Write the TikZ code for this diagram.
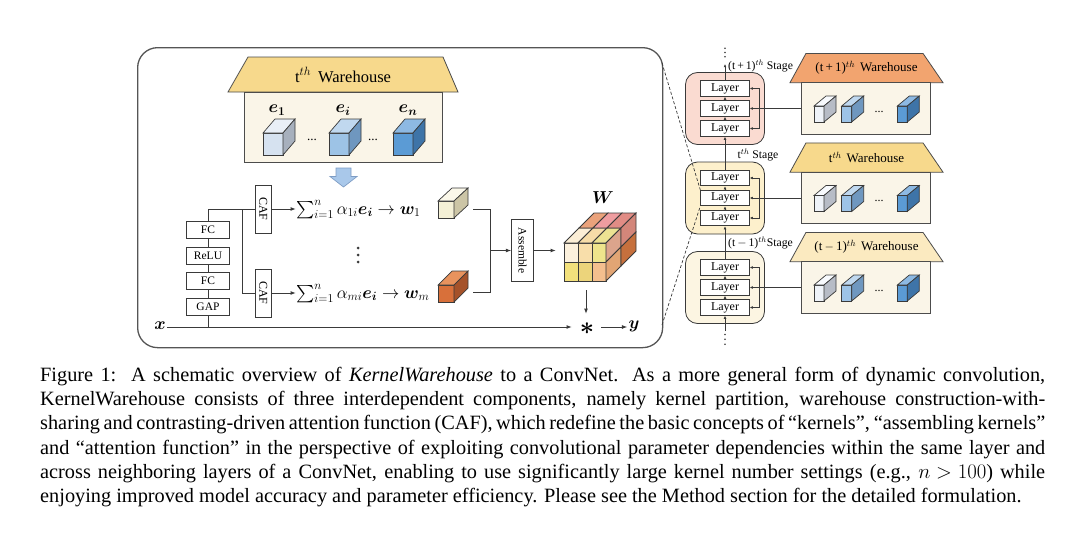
\documentclass[tikz,border=0pt]{standalone}
\usepackage{fontspec}
\setmainfont{Liberation Serif}
\usepackage{amsmath}
\usepackage{bm}
\usetikzlibrary{arrows.meta,calc}
\definecolor{lncol}{HTML}{3A3A3A}
\definecolor{panelcol}{HTML}{555555}
\definecolor{roofT}{HTML}{F7D98C}
\definecolor{roofA}{HTML}{F2A46F}
\definecolor{roofB}{HTML}{F7D98C}
\definecolor{roofC}{HTML}{FBEAC0}
\definecolor{bodycol}{HTML}{FAF5E8}
\definecolor{stA}{HTML}{FADBD1}
\definecolor{stB}{HTML}{FDF0CC}
\definecolor{stC}{HTML}{FCF5E2}
\definecolor{arrowblue}{HTML}{A9C8EA}
\definecolor{arrowblueD}{HTML}{7E9CC4}
\definecolor{c1f}{HTML}{D6E2F0}\definecolor{c1t}{HTML}{E9EFF7}\definecolor{c1s}{HTML}{A7B0BD}
\definecolor{c2f}{HTML}{9DC3E6}\definecolor{c2t}{HTML}{C0D8EF}\definecolor{c2s}{HTML}{6F97BF}
\definecolor{c3f}{HTML}{5B9BD5}\definecolor{c3t}{HTML}{8DB9E3}\definecolor{c3s}{HTML}{3E74A8}
\definecolor{s1f}{HTML}{EEF2F8}\definecolor{s1t}{HTML}{F8FAFD}\definecolor{s1s}{HTML}{B7BCC6}
\definecolor{w1f}{HTML}{F4F0D6}\definecolor{w1t}{HTML}{FBF8EA}\definecolor{w1s}{HTML}{CCC5A6}
\definecolor{wmf}{HTML}{D8703A}\definecolor{wmt}{HTML}{E8935E}\definecolor{wms}{HTML}{A5522A}
\definecolor{F1}{HTML}{FCF1DD}\definecolor{F2}{HTML}{F8DEAA}\definecolor{F3}{HTML}{EEE48C}
\definecolor{F4}{HTML}{F3E17C}\definecolor{F5}{HTML}{ECD47B}\definecolor{F6}{HTML}{F4BF8E}
\definecolor{T1}{HTML}{FBEED6}\definecolor{T2}{HTML}{F6DCA8}\definecolor{T3}{HTML}{ECE292}
\definecolor{T4}{HTML}{EAA27B}\definecolor{T5}{HTML}{EF9DA0}\definecolor{T6}{HTML}{E18C85}
\definecolor{S1}{HTML}{DCA48C}\definecolor{S2}{HTML}{D3867A}\definecolor{S3}{HTML}{E2A574}\definecolor{S4}{HTML}{C6703D}
\newcommand{\kcube}[9]{%
  \filldraw[draw=lncol,line width=0.7pt,fill=#7] (#1,#2) rectangle ++(#3,#4);
  \filldraw[draw=lncol,line width=0.7pt,fill=#8] (#1,#2) -- ++(#5,-#6) -- ++(#3,0) -- ++(-#5,#6) -- cycle;
  \filldraw[draw=lncol,line width=0.7pt,fill=#9] (#1,#2) ++(#3,0) -- ++(#5,-#6) -- ++(0,#4) -- ++(-#5,#6) -- cycle;
}
\begin{document}
\begin{tikzpicture}[x=1pt,y=-1pt,
  ln/.style={draw=lncol,line width=1pt},
  arr/.style={draw=lncol,line width=1pt,-{Latex[length=5.5pt,width=4pt]}},
  sarr/.style={draw=lncol,line width=0.8pt,-{Latex[length=3.2pt,width=2.8pt]}},
  opbox/.style={draw=lncol,fill=white,line width=0.8pt,inner sep=0pt,font=\fontsize{11.5}{12}\selectfont},
  layerbox/.style={opbox,minimum width=48.6pt,minimum height=15.5pt,font=\fontsize{12}{12}\selectfont},
  stagebox/.style={draw=lncol,line width=0.8pt,rounded corners=12pt,minimum width=79pt,minimum height=72pt,inner sep=0pt},
  whbody/.style={draw=gray!60!black,line width=0.8pt,fill=bodycol,inner sep=0pt},
  roof/.style={draw=gray!60!black,line width=0.8pt},
  dsh/.style={draw=lncol,line width=0.7pt,dash pattern=on 3pt off 2pt},
  captext/.style={anchor=base west,inner sep=0pt,font=\fontsize{20.3}{24}\selectfont}]
\fill[white] (0,0) rectangle (1080,546);
\useasboundingbox (0,0) rectangle (1080,546);

% ---------- left panel ----------
\node[draw=panelcol,line width=1.3pt,rounded corners=20pt,minimum width=525pt,minimum height=300pt,anchor=north west,inner sep=0pt] (panel) at (137,47) {};
\coordinate (pTR) at (662,63);
\coordinate (pBR) at (662,325);

% big warehouse
\filldraw[roof,fill=roofT] (248,57) -- (443,57) -- (458,92) -- (228,92) -- cycle;
\node[whbody,anchor=north west,minimum width=198pt,minimum height=70pt] (whbig) at (244,92) {};
\node[font=\fontsize{16.5}{18}\selectfont] (whtitle) at (343,75) {t$^{th}$\hspace{7pt}Warehouse};
\node[font=\fontsize{17}{18}\selectfont] (e1) at (277,110) {$\bm{e}_{\bm{1}}$};
\node[font=\fontsize{17}{18}\selectfont] (ei) at (343,110) {$\bm{e}_{\bm{i}}$};
\node[font=\fontsize{17}{18}\selectfont] (en) at (408,110) {$\bm{e}_{\bm{n}}$};
\kcube{263}{133}{20}{22}{12}{14}{c1f}{c1t}{c1s}
\kcube{329}{133}{20}{22}{12}{14}{c2f}{c2t}{c2s}
\kcube{393}{133}{20}{22}{12}{14}{c3f}{c3t}{c3s}
\node[font=\fontsize{13}{13}\selectfont] (dA) at (312,140) {...};
\node[font=\fontsize{13}{13}\selectfont] (dB) at (373,140) {...};
\filldraw[draw=arrowblueD,fill=arrowblue,line width=0.7pt] (336,168) -- (351,168) -- (351,176.5) -- (357,176.5) -- (343.5,187) -- (330,176.5) -- (336,176.5) -- cycle;

% attention branch
\node[opbox,minimum width=43pt,minimum height=16.5pt] (fc1) at (208,230) {FC};
\node[opbox,minimum width=43pt,minimum height=16.5pt] (relu) at (208,255.7) {ReLU};
\node[opbox,minimum width=43pt,minimum height=16.5pt] (fc2) at (208,280.7) {FC};
\node[opbox,minimum width=43pt,minimum height=16.5pt] (gap) at (208,306.7) {GAP};
\coordinate (xs) at (208,327);
\draw[ln] (xs) -- (gap);
\draw[ln] (gap) -- (fc2);
\draw[ln] (fc2) -- (relu);
\draw[ln] (relu) -- (fc1);
\node[opbox,rotate=-90,minimum width=48pt,minimum height=16.7pt,font=\fontsize{12}{12}\selectfont] (caf1) at (263.3,209) {CAF};
\node[opbox,rotate=-90,minimum width=48pt,minimum height=16.7pt,font=\fontsize{12}{12}\selectfont] (caf2) at (263.3,293) {CAF};
\coordinate (sp) at (242,209);
\draw[ln] (fc1) |- (caf1);
\draw[ln] (sp) |- (caf2);

\node[anchor=base west,inner sep=0pt,font=\fontsize{17}{18}\selectfont] (f1) at (296,214) {$\sum_{i=1}^{n}\alpha_{1i}\bm{e}_{\bm{i}}\rightarrow\bm{w}_1$};
\node[anchor=base west,inner sep=0pt,font=\fontsize{17}{18}\selectfont] (f2) at (296,298) {$\sum_{i=1}^{n}\alpha_{mi}\bm{e}_{\bm{i}}\rightarrow\bm{w}_m$};
\draw[arr] (caf1) -- (caf1 -| f1.west);
\draw[arr] (caf2) -- (caf2 -| f2.west);
\fill[lncol] (358,248) circle (1.5pt) (358,255) circle (1.5pt) (358,262) circle (1.5pt);

\kcube{438}{201}{16}{17}{14}{13}{w1f}{w1t}{w1s}
\kcube{438}{285}{16}{17}{14}{14}{wmf}{wmt}{wms}
\coordinate (w1r) at (473,209);
\coordinate (wmr) at (473,292);
\coordinate (b1) at (490,209);
\coordinate (b2) at (490,292);
\coordinate (bm) at (490,250.5);
\draw[ln] (w1r) -- (b1) -- (b2) -- (wmr);
\node[opbox,rotate=-90,minimum width=61.7pt,minimum height=21.6pt,font=\fontsize{11.5}{12}\selectfont] (asm) at (522.5,250.5) {Assemble};
\draw[arr] (bm) -- (asm);
\coordinate (Win) at (556,250.5);
\draw[arr] (asm) -- (Win);

% W cube
\foreach \c/\r/\col in {0/0/F1,1/0/F2,2/0/F3,0/1/F4,1/1/F5,2/1/F6}
  \filldraw[draw=lncol,line width=0.8pt,fill=\col] ({564+14*\c},{243+19*\r}) rectangle ++(14,19);
\foreach \c/\k/\col in {0/0/T1,1/0/T2,2/0/T3,0/1/T4,1/1/T5,2/1/T6}
  \filldraw[draw=lncol,line width=0.8pt,fill=\col] ({564+14*\c+15*\k},{243-15*\k}) -- ++(14,0) -- ++(15,-15) -- ++(-14,0) -- cycle;
\foreach \k/\r/\col in {0/0/S1,1/0/S2,0/1/S3,1/1/S4}
  \filldraw[draw=lncol,line width=0.8pt,fill=\col] ({606+15*\k},{243+19*\r-15*\k}) -- ++(15,-15) -- ++(0,19) -- ++(-15,15) -- cycle;
\node[font=\fontsize{17}{18}\selectfont] (Wl) at (603,198) {$\bm{W}$};

\coordinate (Wbot) at (586,290);
\coordinate (sTop) at (586,314);
\draw[arr] (Wbot) -- (sTop);
\node[anchor=base,inner sep=0pt,font=\fontsize{30}{30}\selectfont] (star) at (587,334.5) {$\bm{\ast}$};
\node[font=\fontsize{17}{18}\selectfont,inner sep=1pt] (xl) at (160,326) {$\bm{x}$};
\node[font=\fontsize{17}{18}\selectfont,inner sep=1pt] (yl) at (634,326) {$\bm{y}$};
\coordinate (sL) at (572,327);
\coordinate (sR) at (601,327);
\draw[arr] (xl.east |- sL) -- (sL);
\draw[arr] (sR) -- (yl.west |- sR);

% ---------- right side ----------
\foreach \s/\S/\fc/\rc in {a/108.5/stA/roofA, b/198/stB/roofB, c/287.5/stC/roofC} {
  \node[stagebox,fill=\fc] (\s box) at (725,\S) {};
  \node[layerbox] (\s1) at (725,\S-20) {Layer};
  \node[layerbox] (\s2) at (725,\S) {Layer};
  \node[layerbox] (\s3) at (725,\S+20) {Layer};
  \draw[sarr] (\s3) -- (\s2);
  \draw[sarr] (\s2) -- (\s1);
  \coordinate (\s bar) at (759.3,\S);
  \draw[sarr] (\s bar) |- (\s1);
  \draw[sarr] (\s bar) |- (\s3);
  \filldraw[roof,fill=\rc] (806,\S-55.1) -- (923,\S-55.1) -- (943,\S-25.85) -- (790,\S-25.85) -- cycle;
  \node[whbody,minimum width=128.3pt,minimum height=51.7pt] (\s wh) at (865.85,\S) {};
  \draw[sarr] (\s wh) -- (\s2);
  \kcube{814}{\S-2.5}{10}{16}{12}{10}{s1f}{s1t}{s1s}
  \kcube{841.7}{\S-2.5}{10}{16}{12}{10}{c2f}{c2t}{c2s}
  \kcube{897.3}{\S-2.5}{10}{16}{12}{10}{c3f}{c3t}{c3s}
  \node[font=\fontsize{12}{12}\selectfont] (\s dots) at (879,\S+3) {...};
}
\node[font=\fontsize{13}{14}\selectfont] (ta) at (866.5,68) {(t\,+\,1)$^{th}$\hspace{5pt}Warehouse};
\node[font=\fontsize{13}{14}\selectfont] (tb) at (866.5,157.5) {t$^{th}$\hspace{5pt}Warehouse};
\node[font=\fontsize{13}{14}\selectfont] (tc) at (866.5,247) {(t\,$-$\,1)$^{th}$\hspace{5pt}Warehouse};

\draw[sarr] (b1) -- (a3);
\draw[sarr] (c1) -- (b3);
\coordinate (topA) at (725,64);
\draw[sarr] (a1) -- (topA);
\coordinate (botC) at (725,331);
\draw[sarr] (botC) -- (c3);
\fill[lncol] (725,48.3) circle (0.9pt) (725,52.5) circle (0.9pt) (725,56.7) circle (0.9pt);
\fill[lncol] (725,334.5) circle (0.9pt) (725,339.3) circle (0.9pt) (725,344.2) circle (0.9pt);

\node[anchor=west,inner sep=0pt,font=\fontsize{11.7}{12}\selectfont] (la) at (728,66) {(t\,+\,1)$^{th}$ Stage};
\node[inner sep=0pt,font=\fontsize{11.7}{12}\selectfont] (lb) at (758,155) {t$^{th}$ Stage};
\node[anchor=west,inner sep=0pt,font=\fontsize{11.7}{12}\selectfont] (lc) at (728,243.3) {(t\,$-$\,1)$^{th}$Stage};

\draw[dsh] (pTR) -- (b2.north west);
\draw[dsh] (pBR) -- (b2.south west);

% ---------- caption ----------
\node[captext] (cl1) at (40,381.5) {\makebox[1005pt][s]{Figure 1:\ \ A schematic overview of \textit{KernelWarehouse} to a ConvNet. As a more general form of dynamic convolution,}};
\node[captext] (cl2) at (40,405.7) {\makebox[1005pt][s]{KernelWarehouse consists of three interdependent components, namely kernel partition, warehouse construction-with-}};
\node[captext] (cl3) at (40,429.9) {\makebox[1005pt][s]{sharing and contrasting-driven attention function (CAF), which redefine the basic concepts of “kernels”, “assembling kernels”}};
\node[captext] (cl4) at (40,454.1) {\makebox[1005pt][s]{and “attention function” in the perspective of exploiting convolutional parameter dependencies within the same layer and}};
\node[captext] (cl5) at (40,478.3) {\makebox[1005pt][s]{across neighboring layers of a ConvNet, enabling to use significantly large kernel number settings (e.g., \mbox{$n>100$}) while}};
\node[captext] (cl6) at (40,502.5) {enjoying improved model accuracy and parameter efficiency. Please see the Method section for the detailed formulation.};
\end{tikzpicture}
\end{document}
